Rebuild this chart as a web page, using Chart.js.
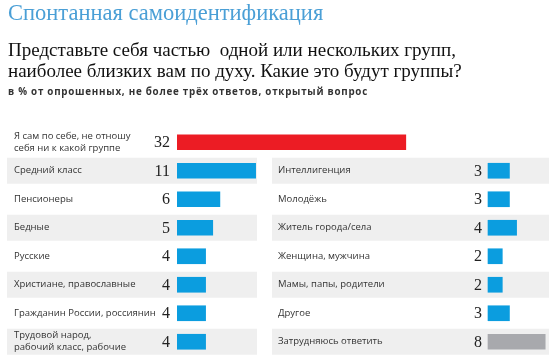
<!DOCTYPE html>
<html><head><meta charset="utf-8">
<script src="https://cdn.jsdelivr.net/npm/chart.js@4"></script>
<style>
html,body{margin:0;padding:0;background:#fff;}
#wrap{position:relative;width:550px;height:358px;overflow:hidden;}
canvas{position:absolute;left:0;top:0;}
.t{position:absolute;left:8px;white-space:nowrap;}
#title{top:0px;font:22.5px "Liberation Serif",serif;color:#4a9fd6;}
#sub{top:39px;font:19px/21px "Liberation Serif",serif;color:#111;}
#note{top:85px;font:bold 9.8px "Open Sans",sans-serif;letter-spacing:0.75px;color:#333;}
</style></head>
<body><div id="wrap">
<canvas id="c" width="550" height="358"></canvas>
<div class="t" id="title">Спонтанная самоидентификация</div>
<div class="t" id="sub">Представьте себя частью&nbsp; одной или нескольких групп,<br>наиболее близких вам по духу. Какие это будут группы?</div>
<div class="t" id="note">в % от опрошенных, не более трёх ответов, открытый вопрос</div>
</div>
<script>
const leftLabels = [
  ["Я сам по себе, не отношу", "себя ни к какой группе"],
  ["Средний класс"],
  ["Пенсионеры"],
  ["Бедные"],
  ["Русские"],
  ["Христиане, православные"],
  ["Гражданин России, россиянин"],
  ["Трудовой народ,", "рабочий класс, рабочие"]
];
const leftValues = [32, 11, 6, 5, 4, 4, 4, 4];
const rightLabels = [null, "Интеллигенция", "Молодёжь", "Житель города/села", "Женщина, мужчина", "Мамы, папы, родители", "Другое", "Затрудняюсь ответить"];
const rightValues = [null, 3, 3, 4, 2, 2, 3, 8];

const LEFT_START = 177, RIGHT_START = 488, PX = 7.15, AREA_RIGHT = 548;
const RED = "#ec1c24", BLUE = "#0b9ddf", GREY = "#a8a9ad", BAND = "#efefef";
const LABEL_FONT = '9.5px "Open Sans", sans-serif';
const VALUE_FONT = '16px "Liberation Serif", serif';

const rowLayer = {
  id: "rowLayer",
  beforeDatasetsDraw(chart) {
    const ctx = chart.ctx, y = chart.scales.y;
    ctx.save();
    ctx.fillStyle = BAND;
    for (let i = 1; i < leftLabels.length; i += 2) {
      const c = y.getPixelForValue(i);
      ctx.fillRect(7, c - 13, 250, 26);
      ctx.fillRect(272, c - 13, 277, 26);
    }
    ctx.restore();
  },
  afterDatasetsDraw(chart) {
    const ctx = chart.ctx, y = chart.scales.y;
    const x = chart.scales.x, x2 = chart.scales.x2;
    ctx.save();
    ctx.textBaseline = "middle";
    leftLabels.forEach((lines, i) => {
      const c = y.getPixelForValue(i);
      ctx.fillStyle = "#333";
      ctx.font = LABEL_FONT;
      ctx.textAlign = "left";
      const lh = 12, y0 = c - (lines.length - 1) * lh / 2;
      lines.forEach((l, k) => ctx.fillText(l, 14, y0 + k * lh));
      ctx.fillStyle = "#222";
      ctx.font = VALUE_FONT;
      ctx.textAlign = "right";
      ctx.fillText(String(leftValues[i]), x.getPixelForValue(0) - 7, c + 1);
    });
    rightLabels.forEach((l, i) => {
      if (l === null) return;
      const c = y.getPixelForValue(i);
      ctx.fillStyle = "#333";
      ctx.font = LABEL_FONT;
      ctx.textAlign = "left";
      ctx.fillText(l, 278, c);
      ctx.fillStyle = "#222";
      ctx.font = VALUE_FONT;
      ctx.textAlign = "right";
      ctx.fillText(String(rightValues[i]), x2.getPixelForValue(0) - 6, c + 1);
    });
    ctx.restore();
  }
};

new Chart(document.getElementById("c"), {
  type: "bar",
  data: {
    labels: leftLabels.map((l) => l.join(" ")),
    datasets: [
      {
        data: leftValues, xAxisID: "x",
        backgroundColor: (ctx) => ctx.dataIndex === 0 ? RED : BLUE,
        barThickness: 15, grouped: false
      },
      {
        data: rightValues, xAxisID: "x2",
        backgroundColor: (ctx) => ctx.dataIndex === rightValues.length - 1 ? GREY : BLUE,
        barThickness: 15, grouped: false
      }
    ]
  },
  options: {
    indexAxis: "y",
    responsive: false,
    animation: false,
    layout: { padding: { left: LEFT_START, right: 550 - AREA_RIGHT, top: 128, bottom: 2 } },
    plugins: { legend: { display: false }, tooltip: { enabled: false } },
    scales: {
      y: { display: false, grid: { display: false } },
      x: { display: false, min: 0, max: (AREA_RIGHT - LEFT_START) / PX },
      x2: { display: false, min: -(RIGHT_START - LEFT_START) / PX, max: (AREA_RIGHT - RIGHT_START) / PX }
    }
  },
  plugins: [rowLayer]
});
</script>
</body></html>
